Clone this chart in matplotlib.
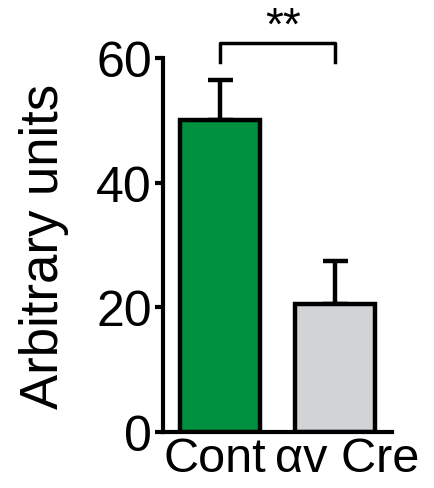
import matplotlib
matplotlib.use("Agg")
import matplotlib.pyplot as plt
from matplotlib.transforms import ScaledTranslation

# Group means and upper SEM
categories = ["Cont", "αv Cre"]
means = [50.0, 20.5]
errors = [6.5, 7.0]
colors = ["#009140", "#d1d3d4"]
yticks = [0, 20, 40, 60]

plt.rcParams["font.family"] = ["Liberation Sans", "DejaVu Sans"]

fig = plt.figure(figsize=(4.35, 4.89), dpi=100)
ax = fig.add_axes([0.3747, 0.1145, 0.5264, 0.7648])

x = list(range(len(categories)))
ax.bar(x, means, width=0.7, color=colors, edgecolor="black", linewidth=3.2, zorder=2)
ax.errorbar(x, means, yerr=[[0] * len(errors), errors], fmt="none", ecolor="black",
            elinewidth=3.2, capsize=9, capthick=3.2, zorder=1)

ax.set_xlim(-0.5, 1.5)
ax.set_ylim(0, 60)
ax.set_yticks(yticks)
ax.set_xticks(x)
ax.set_xticklabels(categories, fontsize=35)
ax.tick_params(axis="y", labelsize=36, width=3, length=6, pad=2)
ax.tick_params(axis="x", length=0, pad=3)

# nudge the category labels apart a little
for lab, dx in zip(ax.get_xticklabels(), [-5, 12]):
    lab.set_transform(lab.get_transform() + ScaledTranslation(dx / 100, 0, fig.dpi_scale_trans))

ax.set_ylabel("Arbitrary units", fontsize=38)
ax.yaxis.set_label_coords(-0.41, 0.5)

for side in ("top", "right"):
    ax.spines[side].set_visible(False)
for side in ("left", "bottom"):
    ax.spines[side].set_linewidth(3)

# Significance bracket
y_br = 62.4
ax.plot([0, 0, 1, 1], [59.3, y_br, y_br, 59.3], color="black", lw=2.5, clip_on=False)
ax.text(0.55, 65.0, "**", ha="center", va="center", fontsize=33, clip_on=False)

fig.savefig("out.png", dpi=100)
